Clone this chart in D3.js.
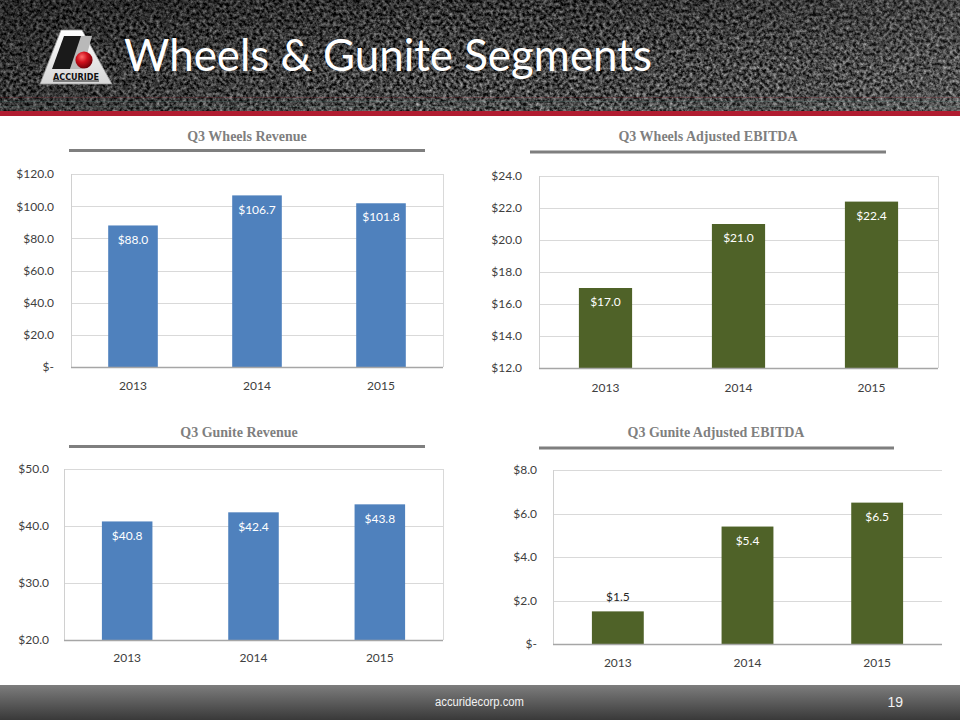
<!DOCTYPE html>
<html>
<head>
<meta charset="utf-8">
<script src="https://cdn.jsdelivr.net/npm/d3@7"></script>
<style>
  html, body { margin: 0; padding: 0; background: #fff; }
  svg { display: block; }
</style>
</head>
<body>
<svg id="slide" width="960" height="720"></svg>
<script>
// ---------------- DATA ----------------
const years = ["2013", "2014", "2015"];
const wheelsRevenue = [88.0, 106.7, 101.8];
const wheelsEbitda = [17.0, 21.0, 22.4];
const guniteRevenue = [40.8, 42.4, 43.8];
const guniteEbitda = [1.5, 5.4, 6.5];

const wheelsRevenueTicks = [0, 20, 40, 60, 80, 100, 120];
const wheelsEbitdaTicks = [12, 14, 16, 18, 20, 22, 24];
const guniteRevenueTicks = [20, 30, 40, 50];
const guniteEbitdaTicks = [0, 2, 4, 6, 8];

const chartTitles = ["Q3 Wheels Revenue", "Q3 Wheels Adjusted EBITDA", "Q3 Gunite Revenue", "Q3 Gunite Adjusted EBITDA"];
const slideTitle = "Wheels & Gunite Segments";
const footerText = "accuridecorp.com";
const pageNumber = "19";
const logoText = "ACCURIDE";

// ---------------- LAYOUT / STYLE ----------------
const BLUE = "#4f81bd", GREEN = "#4f6228";
const panels = [
  { title: chartTitles[0], values: wheelsRevenue, ticks: wheelsRevenueTicks, color: BLUE,
    x0: 71, x1: 443, y0: 174, y1: 367, titleX: 247, titleY: 136, ulX0: 69, ulX1: 425, ulY: 150.5, labelGap: 17, yearY: 386, rightBorder: true },
  { title: chartTitles[1], values: wheelsEbitda, ticks: wheelsEbitdaTicks, color: GREEN,
    x0: 539, x1: 938, y0: 176, y1: 368, titleX: 708, titleY: 136, ulX0: 530, ulX1: 886, ulY: 152, labelGap: 17, yearY: 388, rightBorder: true },
  { title: chartTitles[2], values: guniteRevenue, ticks: guniteRevenueTicks, color: BLUE,
    x0: 64, x1: 443, y0: 469, y1: 640, titleX: 239, titleY: 432, ulX0: 69, ulX1: 425, ulY: 446.5, labelGap: 15, yearY: 658, rightBorder: true },
  { title: chartTitles[3], values: guniteEbitda, ticks: guniteEbitdaTicks, color: GREEN,
    x0: 553, x1: 942, y0: 470, y1: 644, titleX: 716, titleY: 432, ulX0: 539, ulX1: 894, ulY: 448, labelGap: 16, yearY: 663, rightBorder: false }
];

const svg = d3.select("#slide");
const defs = svg.append("defs");

// ---------------- HEADER ----------------
const noise = defs.append("filter").attr("id", "asphalt")
  .attr("x", 0).attr("y", 0).attr("width", "100%").attr("height", "100%")
  .attr("color-interpolation-filters", "sRGB");
noise.append("feTurbulence").attr("type", "fractalNoise").attr("baseFrequency", "0.3")
  .attr("numOctaves", 3).attr("seed", 7).attr("result", "n");
noise.append("feColorMatrix").attr("in", "n").attr("type", "matrix")
  .attr("values", "1.1 0 0 0 -0.29  1.1 0 0 0 -0.29  1.1 0 0 0 -0.29  0 0 0 0 1");

const headShade = defs.append("linearGradient").attr("id", "headShade")
  .attr("x1", 0).attr("y1", 0).attr("x2", 0).attr("y2", 1);
headShade.append("stop").attr("offset", "0").attr("stop-color", "#000").attr("stop-opacity", 0.25);
headShade.append("stop").attr("offset", "0.6").attr("stop-color", "#000").attr("stop-opacity", 0.0);
headShade.append("stop").attr("offset", "1").attr("stop-color", "#fff").attr("stop-opacity", 0.06);

const headSide = defs.append("linearGradient").attr("id", "headSide")
  .attr("x1", 0).attr("y1", 0).attr("x2", 1).attr("y2", 0);
headSide.append("stop").attr("offset", "0").attr("stop-color", "#000").attr("stop-opacity", 0.25);
headSide.append("stop").attr("offset", "0.45").attr("stop-color", "#000").attr("stop-opacity", 0.0);
headSide.append("stop").attr("offset", "1").attr("stop-color", "#fff").attr("stop-opacity", 0.08);

svg.append("rect").attr("x", 0).attr("y", 0).attr("width", 960).attr("height", 111).attr("filter", "url(#asphalt)");
svg.append("rect").attr("x", 0).attr("y", 0).attr("width", 960).attr("height", 111).attr("fill", "url(#headShade)");
svg.append("rect").attr("x", 0).attr("y", 0).attr("width", 960).attr("height", 111).attr("fill", "url(#headSide)");
// faint coloured streaks near bottom of header
svg.append("rect").attr("x", 0).attr("y", 97).attr("width", 960).attr("height", 1).attr("fill", "#8a2a36").attr("opacity", 0.3);
svg.append("rect").attr("x", 0).attr("y", 101).attr("width", 960).attr("height", 1).attr("fill", "#4f7a74").attr("opacity", 0.3);
svg.append("rect").attr("x", 0).attr("y", 106).attr("width", 960).attr("height", 1).attr("fill", "#4f7a74").attr("opacity", 0.25);
// red rule
svg.append("rect").attr("x", 0).attr("y", 111).attr("width", 960).attr("height", 5).attr("fill", "#b01c30");

// logo
const logoGrad = defs.append("linearGradient").attr("id", "logoGrad")
  .attr("x1", 0).attr("y1", 0).attr("x2", 0).attr("y2", 1);
logoGrad.append("stop").attr("offset", "0").attr("stop-color", "#ffffff");
logoGrad.append("stop").attr("offset", "1").attr("stop-color", "#d6d6d6");
const ballGrad = defs.append("radialGradient").attr("id", "ballGrad")
  .attr("cx", 0.38).attr("cy", 0.32).attr("r", 0.7);
ballGrad.append("stop").attr("offset", "0").attr("stop-color", "#ff6a6a");
ballGrad.append("stop").attr("offset", "0.45").attr("stop-color", "#d0101c");
ballGrad.append("stop").attr("offset", "1").attr("stop-color", "#6e0008");

const logo = svg.append("g");
logo.append("path").attr("d", "M61,30 L82,30 L112,84 L40,84 Z")
  .attr("fill", "url(#logoGrad)").attr("stroke", "#9a9a9a").attr("stroke-width", 0.8);
logo.append("path").attr("d", "M80,36 L92,36 L83,69 L70,69 Z").attr("fill", "#b9b9b9");
logo.append("path").attr("d", "M64,36 L81,36 L70,69 L52,69 Z").attr("fill", "#1a1a1a");
logo.append("circle").attr("cx", 84).attr("cy", 60).attr("r", 8.6).attr("fill", "url(#ballGrad)");
logo.append("text").attr("x", 76).attr("y", 79.5).attr("text-anchor", "middle")
  .attr("font-family", "'DejaVu Sans', sans-serif").attr("font-weight", "bold")
  .attr("font-size", 8.5).attr("textLength", 46).attr("lengthAdjust", "spacingAndGlyphs")
  .attr("fill", "#111")
  .text(logoText);
logo.append("rect").attr("x", 53).attr("y", 80.5).attr("width", 46).attr("height", 1).attr("fill", "#222");

// slide title
svg.append("text").attr("x", 124).attr("y", 71)
  .attr("font-family", "Lato, 'Open Sans', sans-serif").attr("font-size", 45)
  .attr("fill", "#ffffff").attr("textLength", 528).attr("lengthAdjust", "spacingAndGlyphs")
  .text(slideTitle);

// ---------------- FOOTER ----------------
const footGrad = defs.append("linearGradient").attr("id", "footGrad")
  .attr("x1", 0).attr("y1", 0).attr("x2", 0).attr("y2", 1);
footGrad.append("stop").attr("offset", "0").attr("stop-color", "#7d7d7d");
footGrad.append("stop").attr("offset", "1").attr("stop-color", "#393939");
svg.append("rect").attr("x", 0).attr("y", 685).attr("width", 960).attr("height", 35).attr("fill", "url(#footGrad)");
svg.append("text").attr("x", 479.5).attr("y", 705.5).attr("text-anchor", "middle")
  .attr("font-family", "'Liberation Sans', sans-serif").attr("font-size", 12)
  .attr("textLength", 89).attr("lengthAdjust", "spacingAndGlyphs")
  .attr("fill", "#f2f2f2").text(footerText);
svg.append("text").attr("x", 903).attr("y", 706.5).attr("text-anchor", "end")
  .attr("font-family", "'Liberation Sans', sans-serif").attr("font-size", 14)
  .attr("fill", "#f2f2f2").text(pageNumber);

// ---------------- CHARTS ----------------
const fmt = v => v === 0 ? "$-" : "$" + d3.format(".1f")(v);
const FONT = "Lato, 'Open Sans', sans-serif";

panels.forEach(p => {
  const g = svg.append("g");
  const x = d3.scaleBand().domain(years).range([p.x0, p.x1]).paddingInner(0.6).paddingOuter(0.3);
  const y = d3.scaleLinear().domain(d3.extent(p.ticks)).range([p.y1, p.y0]);
  const base = y(p.ticks[0]);
  const outside = d => (base - y(d)) < 40;

  // title + underline
  g.append("text").attr("x", p.titleX).attr("y", p.titleY).attr("dy", "0.35em")
    .attr("text-anchor", "middle").attr("font-family", "'Liberation Serif', 'Times New Roman', serif")
    .attr("font-weight", "bold").attr("font-size", 14).attr("fill", "#7f7f7f").text(p.title);
  g.append("line").attr("x1", p.ulX0).attr("x2", p.ulX1).attr("y1", p.ulY).attr("y2", p.ulY)
    .attr("stroke", "#7f7f7f").attr("stroke-width", 3);

  // gridlines
  g.append("g").selectAll("line").data(p.ticks).join("line")
    .attr("x1", p.x0).attr("x2", p.x1)
    .attr("y1", d => Math.round(y(d)) + 0.5).attr("y2", d => Math.round(y(d)) + 0.5)
    .attr("stroke", "#d9d9d9").attr("stroke-width", 1);
  // frame
  g.append("line").attr("x1", p.x0 + 0.5).attr("x2", p.x0 + 0.5).attr("y1", p.y0).attr("y2", p.y1)
    .attr("stroke", "#d0d0d0");
  if (p.rightBorder) {
    g.append("line").attr("x1", p.x1 + 0.5).attr("x2", p.x1 + 0.5).attr("y1", p.y0).attr("y2", p.y1)
      .attr("stroke", "#d9d9d9");
  }

  // y axis via d3 axis
  const yAxis = d3.axisLeft(y).tickValues(p.ticks).tickFormat(fmt).tickSize(0).tickPadding(p.labelGap);
  const ya = g.append("g").attr("transform", `translate(${p.x0},0)`).call(yAxis);
  ya.select(".domain").remove();
  ya.selectAll("text").attr("font-family", FONT).attr("font-size", 12).attr("fill", "#404040");

  // bars
  const bw = x.bandwidth();
  g.append("g").selectAll("rect").data(p.values).join("rect")
    .attr("x", (d, i) => x(years[i]))
    .attr("y", d => y(d))
    .attr("width", bw)
    .attr("height", d => base - y(d))
    .attr("fill", p.color);

  // bottom axis line
  g.append("line").attr("x1", p.x0).attr("x2", p.x1).attr("y1", p.y1 + 0.5).attr("y2", p.y1 + 0.5)
    .attr("stroke", "#a6a6a6").attr("stroke-width", 1.5);

  // x axis labels via d3 axis
  const xAxis = d3.axisBottom(x).tickSize(0).tickPadding(0);
  const xa = g.append("g").attr("transform", `translate(0,${p.yearY})`).call(xAxis);
  xa.select(".domain").remove();
  xa.selectAll("text").attr("dy", "0.35em").attr("font-family", FONT).attr("font-size", 12).attr("fill", "#404040");

  // data labels
  g.append("g").selectAll("text").data(p.values).join("text")
    .attr("x", (d, i) => x(years[i]) + bw / 2)
    .attr("y", d => outside(d) ? y(d) - 15 : y(d) + 14)
    .attr("dy", "0.35em")
    .attr("text-anchor", "middle")
    .attr("font-family", FONT).attr("font-size", 12)
    .attr("fill", d => outside(d) ? "#262626" : "#ffffff")
    .text(d => "$" + d3.format(".1f")(d));
});
</script>
</body>
</html>
